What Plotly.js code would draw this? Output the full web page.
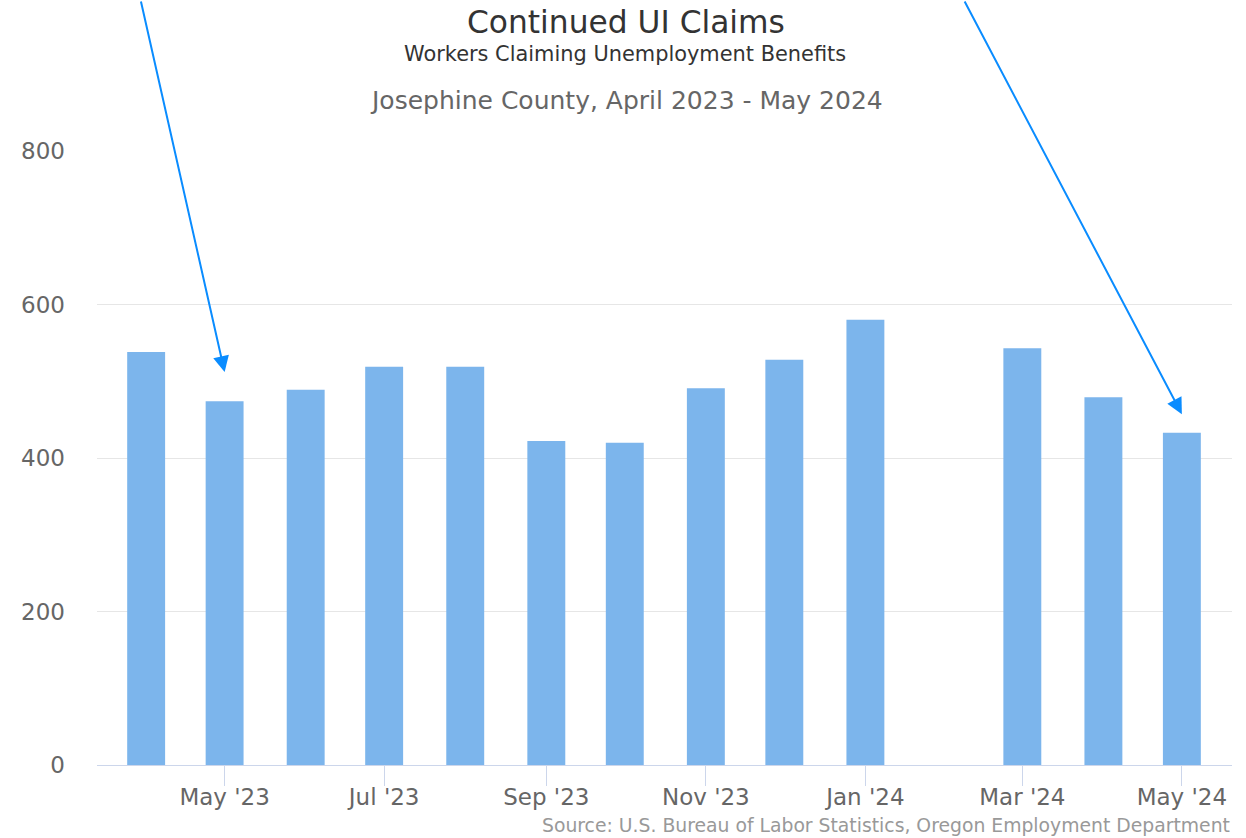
<!DOCTYPE html>
<html>
<head>
<meta charset="utf-8">
<script src="https://cdn.plot.ly/plotly-3.0.1.min.js"></script>
<style>html,body{margin:0;padding:0;background:#fff;}#chart{width:1246px;height:838px;}</style>
</head>
<body>
<div id="chart"></div>
<script>
// Data
const months = ['2023-04-01','2023-05-01','2023-06-01','2023-07-01','2023-08-01','2023-09-01','2023-10-01','2023-11-01','2023-12-01','2024-01-01','2024-03-01','2024-04-01','2024-05-01'];
const claims = [538, 474, 489, 519, 519, 422, 420, 491, 528, 580, 543, 479, 433];
const yTicks = [0, 200, 400, 600, 800];
const titleText = 'Continued UI Claims';
const subtitleText = 'Workers Claiming Unemployment Benefits';
const areaText = 'Josephine County, April 2023 - May 2024';
const sourceText = 'Source: U.S. Bureau of Labor Statistics, Oregon Employment Department';
const arrowTargets = [{x: '2023-05-01', y: 512, ax: -84, ay: -372}, {x: '2024-05-01', y: 457, ax: -218, ay: -415}];

const FONT = 'DejaVu Sans, Verdana, sans-serif';
const DAY = 86400000;

const trace = {
  type: 'bar',
  x: months,
  y: claims,
  width: 14.5 * DAY,
  marker: {color: '#7cb5ec'},
  hoverinfo: 'x+y'
};

const annotations = [
  {text: titleText, xref: 'paper', yref: 'paper', x: 0.5, y: 0, xanchor: 'center', yanchor: 'middle', showarrow: false, font: {family: FONT, size: 31.3, color: '#333333'}},
  {text: subtitleText, xref: 'paper', yref: 'paper', x: 0.5, y: 0, xanchor: 'center', yanchor: 'middle', showarrow: false, font: {family: FONT, size: 20.9, color: '#333333'}},
  {text: areaText, xref: 'paper', yref: 'paper', x: 0.5, y: 0, xanchor: 'center', yanchor: 'middle', showarrow: false, font: {family: FONT, size: 25, color: '#666666'}},
  {text: sourceText, xref: 'paper', yref: 'paper', x: 1, y: 0, xanchor: 'right', yanchor: 'middle', showarrow: false, font: {family: FONT, size: 18.8, color: '#999999'}}
];
// place text rows in pixel space (converted to paper fraction)
const H = 838, mT = 151, mB = 73, ph = H - mT - mB;
const W = 1246, mL = 97, mR = 14, pw = W - mL - mR;
function py(pix) { return (H - mB - pix) / ph; }
function px(pix) { return (pix - mL) / pw; }
annotations[0].y = py(22); annotations[0].x = px(626);
annotations[1].y = py(54); annotations[1].x = px(625);
annotations[2].y = py(101); annotations[2].x = px(626);
annotations[3].y = py(825); annotations[3].x = px(1232);

arrowTargets.forEach(a => {
  annotations.push({
    x: a.x, y: a.y, xref: 'x', yref: 'y', text: '', showarrow: true,
    ax: a.ax, ay: a.ay, axref: 'pixel', ayref: 'pixel',
    arrowhead: 2, arrowsize: 1.6, arrowwidth: 2, arrowcolor: '#0a8cff', standoff: 0
  });
});

const layout = {
  width: W, height: H,
  margin: {l: mL, r: mR, t: mT, b: mB, pad: 0},
  paper_bgcolor: '#ffffff', plot_bgcolor: '#ffffff',
  showlegend: false,
  font: {family: FONT, color: '#666666'},
  xaxis: {
    type: 'date',
    range: ['2023-03-13 05:00', '2024-05-20 04:00'],
    tick0: '2023-05-01', dtick: 'M2',
    tickformat: "%b '%y",
    ticks: 'outside', ticklen: 20, tickcolor: '#ccd6eb', tickwidth: 1,
    ticklabelstandoff: -9,
    showgrid: false,
    showline: true, linecolor: '#ccd6eb', linewidth: 1,
    tickfont: {family: FONT, size: 23, color: '#666666'},
    fixedrange: true
  },
  yaxis: {
    range: [0, 800],
    tickvals: yTicks,
    showgrid: true, gridcolor: '#e6e6e6', gridwidth: 1,
    zeroline: false, showline: false,
    ticks: '',
    ticklabelstandoff: 31,
    tickfont: {family: FONT, size: 23, color: '#666666'},
    fixedrange: true
  },
  bargap: 0.5,
  annotations: annotations
};

Plotly.newPlot('chart', [trace], layout, {displayModeBar: false, staticPlot: true});
</script>
</body>
</html>
